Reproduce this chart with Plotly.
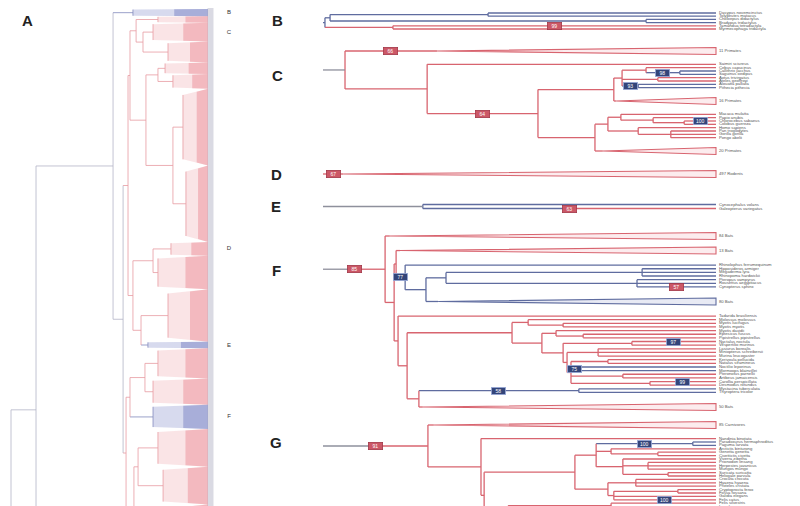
import plotly.graph_objects as go

# ======================= DATA =======================
# tip names / collapsed-clade labels per panel
B_TIPS = ["Dasypus novemcinctus", "Tolypeutes matacus", "Choloepus didactylus",
          "Bradypus tridactylus", "Tamandua tetradactyla", "Myrmecophaga tridactyla"]
C_CLADES = ["11 Primates", "16 Primates", "20 Primates"]
C_TIPS = ["Saimiri sciureus", "Cebus capucinus", "Callithrix jacchus", "Saguinus oedipus",
          "Aotus trivirgatus", "Ateles geoffroyi", "Alouatta palliata", "Pithecia pithecia",
          "Macaca mulatta", "Papio anubis", "Chlorocebus sabaeus", "Colobus guereza",
          "Homo sapiens", "Pan troglodytes", "Gorilla gorilla", "Pongo abelii"]
D_CLADES = ["497 Rodents"]
E_TIPS = ["Cynocephalus volans", "Galeopterus variegatus"]
F_CLADES = ["84 Bats", "13 Bats", "80 Bats", "50 Bats"]
F_TIPS_1 = ["Rhinolophus ferrumequinum", "Hipposideros armiger", "Megaderma lyra",
            "Rhinopoma hardwickii", "Pteropus vampyrus", "Rousettus aegyptiacus", "Cynopterus sphinx"]
F_TIPS_2 = ["Tadarida brasiliensis", "Molossus molossus", "Myotis lucifugus", "Myotis myotis",
            "Myotis davidii", "Eptesicus fuscus", "Pipistrellus pipistrellus", "Nyctalus noctula",
            "Vespertilio murinus", "Lasiurus borealis", "Miniopterus schreibersii", "Murina leucogaster",
            "Kerivoula pellucida", "Natalus stramineus", "Noctilio leporinus", "Mormoops blainvillei",
            "Pteronotus parnellii", "Artibeus jamaicensis", "Carollia perspicillata", "Desmodus rotundus",
            "Mystacina tuberculata", "Thyroptera tricolor"]
G_CLADES = ["85 Carnivores"]
G_TIPS = ["Nandinia binotata", "Paradoxurus hermaphroditus", "Paguma larvata", "Arctictis binturong",
          "Genetta genetta", "Civettictis civetta", "Viverra zibetha", "Prionodon linsang",
          "Herpestes javanicus", "Mungos mungo", "Suricata suricatta", "Helogale parvula",
          "Crocuta crocuta", "Hyaena hyaena", "Proteles cristata", "Cryptoprocta ferox",
          "Fossa fossana", "Galidia elegans", "Felis catus", "Felis silvestris", "Lynx lynx",
          "Puma concolor", "Acinonyx jubatus", "Panthera leo", "Panthera tigris", "Panthera pardus",
          "Neofelis nebulosa", "Caracal caracal", "Leopardus pardalis", "Prionailurus bengalensis"]

# panel A: collapsed clades (top to bottom): number of tips, crown age (Myr), colour class
A_SIZES = [14, 12, 36, 40, 22, 28, 146, 146, 26, 64, 100, 12, 58, 50, 46, 72, 72, 84, 100, 200, 200]
A_CROWNS = [38.1, 25.4, 27.9, 20.3, 21.8, 17.8, 12.7, 11.2, 18.8, 25.4, 20.3, 30.5,
            25.4, 27.9, 27.9, 25.4, 22.8, 20.3, 25.4, 60.0, 70.0]
A_COLS = ["b", "r", "r", "r", "r", "r", "r", "r", "r", "r", "r", "b",
          "r", "r", "b", "r", "r", "r", "r", "r", "r"]
A_MARKS = ["B", "C", "D", "E", "F"]
A_MARK_ROWS = [0, 2, 8, 11, 14]   # clade index each marker points to


# tree constructors (ages in Myr, support values, colour classes)
def tip(name, col="r", sup=None, scol="r", pre=None):
    return dict(kind="tip", name=name, age=0.0, col=col, sup=sup, scol=scol, pre=pre)


def tri(name, crown, col="r", sup=None, scol="r", pre=None):
    return dict(kind="tri", name=name, age=crown, col=col, sup=sup, scol=scol, pre=pre)


def node(age, kids, col="r", sup=None, scol="r", pre=None):
    return dict(kind="node", age=age, kids=kids, col=col, sup=sup, scol=scol, pre=pre)


def fan(i):
    return dict(kind="fan", n=A_SIZES[i], age=A_CROWNS[i], col=A_COLS[i], sup=None, pre=None)


b = B_TIPS
B_TREE = node(99.5, [
    node(98.2, [node(58.0, [tip(b[0], "b"), tip(b[1], "b")], "b"),
                node(17.8, [tip(b[2], "b"), tip(b[3], "b")], "b")], "b"),
    node(82.2, [tip(b[4], "r", sup="99", scol="r"), tip(b[5], "r")], "r"),
], "b")

c = C_TIPS
C_TREE = node(94.4, [
    tri(C_CLADES[0], 71.0, sup="66"),
    node(73.5, [
        tip(c[0]),
        node(45.3, [
            node(26.0, [
                node(23.9, [
                    node(17.8, [tip(c[1]), node(9.2, [tip(c[2], "b"), tip(c[3], "b")], "b", sup="98", scol="b")]),
                    node(14.8, [tip(c[4]), tip(c[5])]),
                    node(19.8, [tip(c[6], "b"), tip(c[7], "b")], "b", sup="93", scol="b"),
                ]),
                tri(C_CLADES[1], 25.4),
            ]),
            node(30.8, [
                node(27.5, [
                    node(24.2, [tip(c[8]), node(16.0, [tip(c[9]), node(8.1, [tip(c[10], sup="100", scol="b"), tip(c[11])])])]),
                    node(19.8, [tip(c[12]), node(11.5, [tip(c[13]), tip(c[14]), tip(c[15])])]),
                ]),
                tri(C_CLADES[2], 28.8),
            ]),
        ], sup="64"),
    ]),
], pre="g")

D_TREE = tri(D_CLADES[0], 94.9, sup="67")

E_TREE = node(74.6, [tip(E_TIPS[0], "b"), tip(E_TIPS[1], "r", sup="63", scol="r", pre="b")], "b", pre="g")

f1, f = F_TIPS_1, F_TIPS_2
F_TREE = node(84.2, [
    tri(F_CLADES[0], 83.0),
    node(81.9, [
        node(81.4, [
            tri(F_CLADES[1], 80.4),
            node(79.1, [
                tip(f1[0], "b"),
                node(73.8, [
                    node(68.7, [
                        node(18.8, [tip(f1[1], "b"), tip(f1[2], "b"), tip(f1[3], "b")], "b"),
                        node(20.1, [tip(f1[4], "b"), tip(f1[5], "b"), tip(f1[6], "b", sup="57", scol="r")], "b"),
                    ], "b"),
                    tri(F_CLADES[2], 70.7, "b"),
                ], "b"),
            ], "b", sup="77", scol="b"),
        ]),
        node(80.9, [
            tip(f[0]),
            node(78.6, [
                node(51.9, [
                    node(47.8, [tip(f[1]), node(38.9, [tip(f[2]), tip(f[3])])]),
                    node(44.3, [
                        node(40.7, [tip(f[4]), node(33.8, [tip(f[5]), tip(f[6])])]),
                        node(38.9, [
                            node(21.4, [tip(f[7], sup="97", scol="b"), tip(f[8])]),
                            node(37.9, [
                                node(30.0, [tip(f[9]), tip(f[10]), tip(f[11])]),
                                node(36.9, [
                                    node(27.5, [tip(f[12]), tip(f[13])]),
                                    node(34.9, [tip(f[14], "b"), tip(f[15], "b")], "b", sup="75", scol="b"),
                                    node(23.7, [tip(f[16]), tip(f[17])]),
                                    node(16.8, [tip(f[18], sup="99", scol="b"), tip(f[19])]),
                                ]),
                            ]),
                        ]),
                    ]),
                ]),
                node(75.6, [
                    node(34.9, [tip(f[20], "b"), tip(f[21], "b")], "b", sup="58", scol="b"),
                    tri(F_CLADES[3], 74.6),
                ]),
            ]),
        ]),
    ]),
], sup="85", pre="g")

g = G_TIPS
G_TREE = node(73.3, [
    tri(G_CLADES[0], 71.8),
    node(59.8, [
        tip(g[0]),
        node(59.0, [
            node(35.9, [
                node(30.5, [
                    node(5.9, [tip(g[1], "b"), tip(g[2], "b")], "b", sup="100", scol="b"),
                    node(26.7, [tip(g[3]), node(14.8, [tip(g[4]), tip(g[5])])]),
                    node(23.7, [tip(g[6]), node(17.3, [tip(g[7]), tip(g[8]), tip(g[9])]),
                                node(12.2, [tip(g[10]), tip(g[11])])]),
                ]),
                node(27.5, [
                    node(20.4, [tip(g[12]), tip(g[13]), tip(g[14])]),
                    node(26.0, [node(9.7, [tip(g[15]), tip(g[16])]), tip(g[17]), tip(g[18], sup="100", scol="b")]),
                ]),
            ]),
            node(52.9, [
                node(26.7, [tip(g[19]), node(17.3, [tip(g[20]), tip(g[21])])]),
                node(37.7, [tip(g[22]), tip(g[23]), node(22.4, [tip(g[24]), tip(g[25])])]),
                node(30.0, [tip(g[26]), tip(g[27]), node(14.8, [tip(g[28]), tip(g[29])])]),
            ]),
        ]),
    ]),
], sup="91", pre="g")

fa = [fan(i) for i in range(len(A_SIZES))]
A_TREE = node(100.0, [
    node(87.3, [
        node(48.2, [
            fa[0],
            node(43.1, [
                node(40.6, [
                    node(39.6, [
                        node(36.5, [fa[1], node(33.0, [fa[2], fa[3]])]),
                        node(31.5, [node(25.4, [fa[4], fa[5]]), node(17.8, [fa[6], fa[7]])]),
                    ]),
                    node(38.1, [node(27.9, [fa[8], fa[9]]), node(34.0, [fa[10], fa[11]])]),
                ]),
                node(41.6, [
                    node(39.6, [node(32.0, [fa[12], fa[13]]), fa[14]]),
                    node(37.6, [node(35.5, [fa[15], fa[16]]), node(27.9, [fa[17], fa[18]])]),
                ]),
            ], "g"),
        ], "g"),
        fa[19],
    ], "g"),
    fa[20],
], "g")

# ======================= LAYOUT / STYLE =======================
PANEL_TIP_X, PANEL_PX_PER_MY = 708.0, 3.93
A_TIP_X, A_PX_PER_MY = 200.0, 1.97
STEM_AGE = 100.0
PAL = {"r": "#d8646f", "b": "#5f6c9f", "g": "#8e909c"}
PAL_A = {"r": "#e79aa1", "b": "#8189bd", "g": "#b3b4c6"}
TRI_FILL = {"r": "rgba(240,170,178,0.22)", "b": "rgba(150,160,205,0.22)"}
BADGE = {"r": ("#cc5867", "#a23848"), "b": ("#33457a", "#9aaad8")}
FONT = "Liberation Sans"
LABEL_SIZE = 4.2
PAGE_H = 506

PANELS = [  # tree, first row y, last row y, row step
    (B_TREE, 5.0, 21.0, None),
    (C_TREE, 43.0, 143.0, None),
    (D_TREE, 166.0, None, 1.0),
    (E_TREE, 196.5, 200.5, None),
    (F_TREE, 228.0, 399.0, None),
    (G_TREE, 417.0, None, 3.4),
]
PANEL_LETTERS = [("A", 19, 12), ("B", 269, 12), ("C", 269, 67), ("D", 268, 166),
                 ("E", 268, 198), ("F", 268, 262), ("G", 268, 434)]


def leaves_of(n, acc):
    if n["kind"] == "node":
        for k in n["kids"]:
            leaves_of(k, acc)
    else:
        acc.append(n)
    return acc


def set_node_y(n):
    if n["kind"] == "node":
        ys = [set_node_y(k) for k in n["kids"]]
        n["y"] = (ys[0] + ys[-1]) / 2
    return n["y"]


def layout_panel(root, y_first, y_last, step, margin=3):
    lv = leaves_of(root, [])
    pos = [0.0]
    for i in range(1, len(lv)):
        extra = margin if (lv[i]["kind"] == "tri" or lv[i - 1]["kind"] == "tri") else 0
        pos.append(pos[-1] + 1 + extra)
    if y_last is not None and pos[-1] > 0:
        step = (y_last - y_first) / pos[-1]
    for lf, p in zip(lv, pos):
        lf["y"] = y_first + p * step
    set_node_y(root)


def layout_fans(root, y0, step):
    cum = y0
    for lf in leaves_of(root, []):
        lf["y0"] = cum
        cum += lf["n"] * step
        lf["y1"] = cum
        lf["y"] = (lf["y0"] + lf["y1"]) / 2
    set_node_y(root)


def collect(root, X, xtip, out):
    def seg(col, x0, y0, x1, y1):
        out["segs"].setdefault(col, []).append((x0, y0, x1, y1))

    def branch(px, x, y, n):
        pre = n.get("pre") or n["col"]
        if n.get("sup") is not None:
            mid = (px + x) / 2
            seg(pre, px, y, mid, y)
            seg(n["col"], mid, y, x, y)
            out["badges"].append((mid, y, n["sup"], n["scol"]))
        else:
            seg(pre, px, y, x, y)

    def walk(n, px):
        x = X(n["age"])
        branch(px, x, n["y"], n)
        k = n["kind"]
        if k == "node":
            seg(n["col"], x, n["kids"][0]["y"], x, n["kids"][-1]["y"])
            for ch in n["kids"]:
                walk(ch, x)
        elif k == "tri":
            out["tris"].append((x, xtip, n["y"], n["col"], n["name"]))
        elif k == "tip":
            out["labels"].append((xtip, n["y"], n["name"]))
        elif k == "fan":
            out["fans"].append((x, xtip, n["y0"], n["y1"], n["col"]))

    walk(root, X(STEM_AGE))


def xp(age):
    return PANEL_TIP_X - PANEL_PX_PER_MY * age


def xa(age):
    return A_TIP_X - A_PX_PER_MY * age


outP = dict(segs={}, badges=[], tris=[], labels=[], fans=[])
for tree, y1, y2, st in PANELS:
    layout_panel(tree, y1, y2, st)
    collect(tree, xp, PANEL_TIP_X, outP)

outA = dict(segs={}, badges=[], tris=[], labels=[], fans=[])
layout_fans(A_TREE, 1.0, 0.525)
collect(A_TREE, xa, A_TIP_X, outA)

fig = go.Figure()

# ---- panel A: dense collapsed clades drawn as shaded blocks
for (xc, xt, y0, y1, col) in outA["fans"]:
    h = y1 - y0
    ins = 0.08 * h
    if col == "b":
        f_out, f_in = "rgba(140,150,205,0.35)", "rgba(110,120,190,0.45)"
    else:
        f_out, f_in = "rgba(240,165,172,0.30)", "rgba(232,120,132,0.40)"
    fig.add_trace(go.Scatter(x=[xc, xt, xt, xc, xc], y=[y0 + ins, y0, y1, y1 - ins, y0 + ins],
                             mode="lines", fill="toself", fillcolor=f_out,
                             line=dict(width=0), hoverinfo="skip"))
    xm = xt - 0.45 * (xt - xc)
    fig.add_trace(go.Scatter(x=[xm, xt, xt, xm, xm], y=[y0 + ins * 0.5, y0, y1, y1 - ins * 0.5, y0 + ins * 0.5],
                             mode="lines", fill="toself", fillcolor=f_in,
                             line=dict(width=0), hoverinfo="skip"))
    outA["segs"].setdefault(col, []).append((xc, y0 + ins, xc, y1 - ins))

# tiny tip-label band of panel A
fig.add_shape(type="rect", x0=199.5, x1=205.5, y0=0, y1=PAGE_H, line=dict(width=0),
              fillcolor="rgba(150,150,175,0.35)", layer="above")

for col, ss in outA["segs"].items():
    xs, ys = [], []
    for (x0, y0, x1, y1) in ss:
        xs += [x0, x1, None]
        ys += [y0, y1, None]
    fig.add_trace(go.Scatter(x=xs, y=ys, mode="lines", line=dict(color=PAL_A[col], width=0.8),
                             hoverinfo="skip"))

# markers next to panel A
a_leaves = leaves_of(A_TREE, [])
fig.add_trace(go.Scatter(x=[221] * len(A_MARKS), y=[a_leaves[i]["y"] for i in A_MARK_ROWS],
                         mode="text", text=A_MARKS, textposition="middle center",
                         textfont=dict(size=6, color="#333333", family=FONT), hoverinfo="skip"))

# ---- panels B-G: collapsed clades
for (xc, xt, y, col, name) in outP["tris"]:
    fig.add_trace(go.Scatter(x=[xc, xt, xt, xc], y=[y, y - 3.5, y + 3.5, y], mode="lines",
                             fill="toself", fillcolor=TRI_FILL[col],
                             line=dict(color=PAL[col], width=1.1), hoverinfo="skip"))
    outP["labels"].append((xt, y, name))

for col, ss in outP["segs"].items():
    xs, ys = [], []
    for (x0, y0, x1, y1) in ss:
        xs += [x0, x1, None]
        ys += [y0, y1, None]
    fig.add_trace(go.Scatter(x=xs, y=ys, mode="lines", line=dict(color=PAL[col], width=1.3),
                             hoverinfo="skip"))

vis = [l for l in outP["labels"] if l[1] < PAGE_H - 4]
fig.add_trace(go.Scatter(x=[l[0] + 3 for l in vis], y=[l[1] for l in vis],
                         mode="text", text=[l[2] for l in vis], textposition="middle right",
                         textfont=dict(size=LABEL_SIZE, color="#555555", family=FONT), hoverinfo="skip"))

annotations = []
for (x, y, s, sc) in outP["badges"]:
    bg, bd = BADGE[sc]
    annotations.append(dict(x=x, y=y, text=s, showarrow=False, xref="x", yref="y",
                            font=dict(size=5, color="white", family=FONT),
                            bgcolor=bg, bordercolor=bd, borderwidth=0.8, borderpad=0,
                            width=13, height=6))
for (t, x, y) in PANEL_LETTERS:
    annotations.append(dict(x=x, y=y, text="<b>%s</b>" % t, showarrow=False, xref="x", yref="y",
                            font=dict(size=15, color="#222222", family=FONT)))

fig.update_layout(
    width=800, height=PAGE_H, margin=dict(l=0, r=0, t=0, b=0),
    paper_bgcolor="white", plot_bgcolor="white", showlegend=False,
    xaxis=dict(range=[0, 800], visible=False, fixedrange=True),
    yaxis=dict(range=[PAGE_H, 0], visible=False, fixedrange=True),
    annotations=annotations,
)
fig.write_html("out.html")
